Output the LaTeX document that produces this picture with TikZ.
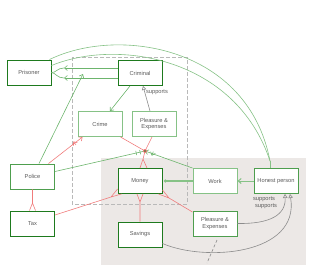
\documentclass[tikz,border=0pt]{standalone}
\usepackage{fontspec}
\setmainfont{Liberation Sans}
\usetikzlibrary{arrows.meta,decorations.markings}
\definecolor{dkgreen}{HTML}{1E7A1E}
\definecolor{mdgreen}{HTML}{4E9E4E}
\definecolor{ltgreen}{HTML}{86C286}
\definecolor{lngreen}{HTML}{6DB56D}
\definecolor{lnred}{HTML}{F07C7C}
\definecolor{lngray}{HTML}{8C8C8C}
\definecolor{bggray}{HTML}{ECE8E6}
\definecolor{txtgray}{HTML}{5A5A5A}

\begin{document}
\begin{tikzpicture}[x=1pt,y=-1pt,line width=0.6pt,>={Straight Barb[length=3pt,width=5pt]},
  box/.style={draw=#1,fill=white,minimum width=44pt,minimum height=25pt,inner sep=1pt,
    align=center,text=txtgray,font=\fontsize{5.7}{6.8}\selectfont,line width=0.9pt},
  lbl/.style={text=txtgray,font=\fontsize{5.7}{6.8}\selectfont,inner sep=0pt},
  tick/.style={postaction={decorate,decoration={markings,
    mark=at position #1 with {\draw (0,-2.2pt)--(0,2.2pt);}}}},
  opentri/.style={-{Triangle[open,length=4pt,width=4.5pt]}}]
  \useasboundingbox (0,0) rectangle (320,277);
  % zona gris y grupo punteado
  \fill[bggray] (101,158) rectangle (306,265);
  \draw[gray!55,dash pattern=on 4pt off 2pt] (72,57) rectangle (187,204);
  % cajas
  \node[box=dkgreen] (Prisoner) at (29,72.5) {Prisoner};
  \node[box=dkgreen] (Criminal) at (140,73) {Criminal};
  \node[box=ltgreen] (Crime) at (100,124) {Crime};
  \node[box=ltgreen] (pleTop) at (154,124) {Pleasure \&\\Expenses};
  \node[box=mdgreen] (Police) at (32.5,176.5) {Police};
  \node[box=dkgreen] (Tax) at (32.5,223.5) {Tax};
  \node[box=dkgreen] (Money) at (140,181) {Money};
  \node[box=dkgreen] (Savings) at (140,234.5) {Savings};
  \node[box=ltgreen] (Work) at (215,181) {Work};
  \node[box=mdgreen] (Honest) at (276,181) {Honest person};
  \node[box=mdgreen] (pleBot) at (215,223.5) {Pleasure \&\\Expenses};
  % Criminal -- Prisoner
  \coordinate (cpA) at (64,68); \coordinate (cpB) at (64,78);
  \draw[lngreen,->] (Criminal.west |- cpA) -- (cpA);
  \draw[lngreen,->] (Criminal.west |- cpB) -- (cpB);
  \draw[lngreen] (cpA) .. controls (57,68) and (56,73) .. (Prisoner.east);
  \draw[lngreen] (cpB) .. controls (57,78) and (56,73) .. (Prisoner.east);
  \coordinate (assoc) at (83,74);
  \draw[lngreen,->] ([xshift=6.5pt]Police.north) -- (assoc);
  % arcos Prisoner -- Honest person
  \coordinate (hpFork) at (270,161);
  \draw[ltgreen] ([xshift=-2pt]Prisoner.north east) .. controls (118,26) and (248,46) .. (hpFork);
  \draw[ltgreen] ([yshift=-6pt]Prisoner.north east) .. controls (118,38) and (236,58) .. (hpFork);
  \draw[ltgreen] (hpFork) -- (Honest.north -| hpFork);
  % Criminal, Crime, Pleasure
  \draw[lngreen,->] ([xshift=-10pt]Criminal.south) -- ([xshift=10pt]Crime.north);
  \draw[lngray,opentri] ([xshift=-4pt]pleTop.north) -- ([xshift=3pt]Criminal.south);
  \node[lbl] (supTop) at (157,92) {supports};
  % nudo rojo
  \coordinate (jn) at (145,151);
  \draw[lnred,->,tick=-10pt] ([xshift=16pt]Police.north) -- ([xshift=5pt]Crime.south west);
  \draw[lnred] ([xshift=-2pt]Crime.south east) -- (jn);
  \draw[lnred] ([xshift=-2pt]pleTop.south) -- (jn);
  \coordinate (mnFork) at (143,159);
  \draw[lnred] (jn) -- (mnFork) -- (Money.north) (mnFork) -- ([xshift=7pt]Money.north);
  \draw[lngreen,tick=-5pt,tick=-9pt] ([yshift=5pt]Police.east) -- (jn);
  \draw[lngreen,->,tick=-8pt] (Work.north west) -- (jn);
  \fill[lnred] (jn) circle (2pt);
  \fill[dkgreen] (jn) circle (0.8pt);
  % Work, Money, Honest person
  \draw[ltgreen,line width=1.1pt,-{Circle[open,length=3pt]},shorten >=1.5pt] (Work.west) -- (Money.east);
  \draw[ltgreen,line width=1pt,->] (Honest.west) -- (Work.east);
  % pies de cuervo rojos
  \coordinate (txFork) at (32.5,203);
  \draw[lnred] (Police.south) -- (txFork) -- ([xshift=-3pt]Tax.north) (txFork) -- ([xshift=3pt]Tax.north);
  \coordinate (tmFork) at (111,197);
  \draw[lnred] ([yshift=8.5pt]Tax.east) -- (tmFork) -- ([yshift=-8pt]Money.west)
    (tmFork) -- ([xshift=4pt]Money.south west);
  \coordinate (msFork) at (140,202);
  \draw[lnred] (Savings.north) -- (msFork) -- ([xshift=-3pt]Money.south) (msFork) -- ([xshift=3pt]Money.south);
  \coordinate (mpFork) at (169,198);
  \draw[lnred] ([yshift=-1.5pt]pleBot.north west) -- (mpFork) -- ([xshift=-4pt]Money.south east)
    (mpFork) -- ([yshift=4pt]Money.south east);
  % supports hacia Honest person
  \draw[lngray,opentri] (pleBot.east) .. controls (270,224) and (286,215) .. ([xshift=9pt]Honest.south);
  \draw[lngray,opentri] ([yshift=4pt]Savings.south east) .. controls (205,262) and (300,255) .. ([xshift=14pt]Honest.south);
  \node[lbl] (supA) at (264,199) {supports};
  \node[lbl] (supB) at (266,206) {supports};
  \draw[lngray,dash pattern=on 3pt off 2pt] (217,240) -- (207,263);
\end{tikzpicture}
\end{document}
